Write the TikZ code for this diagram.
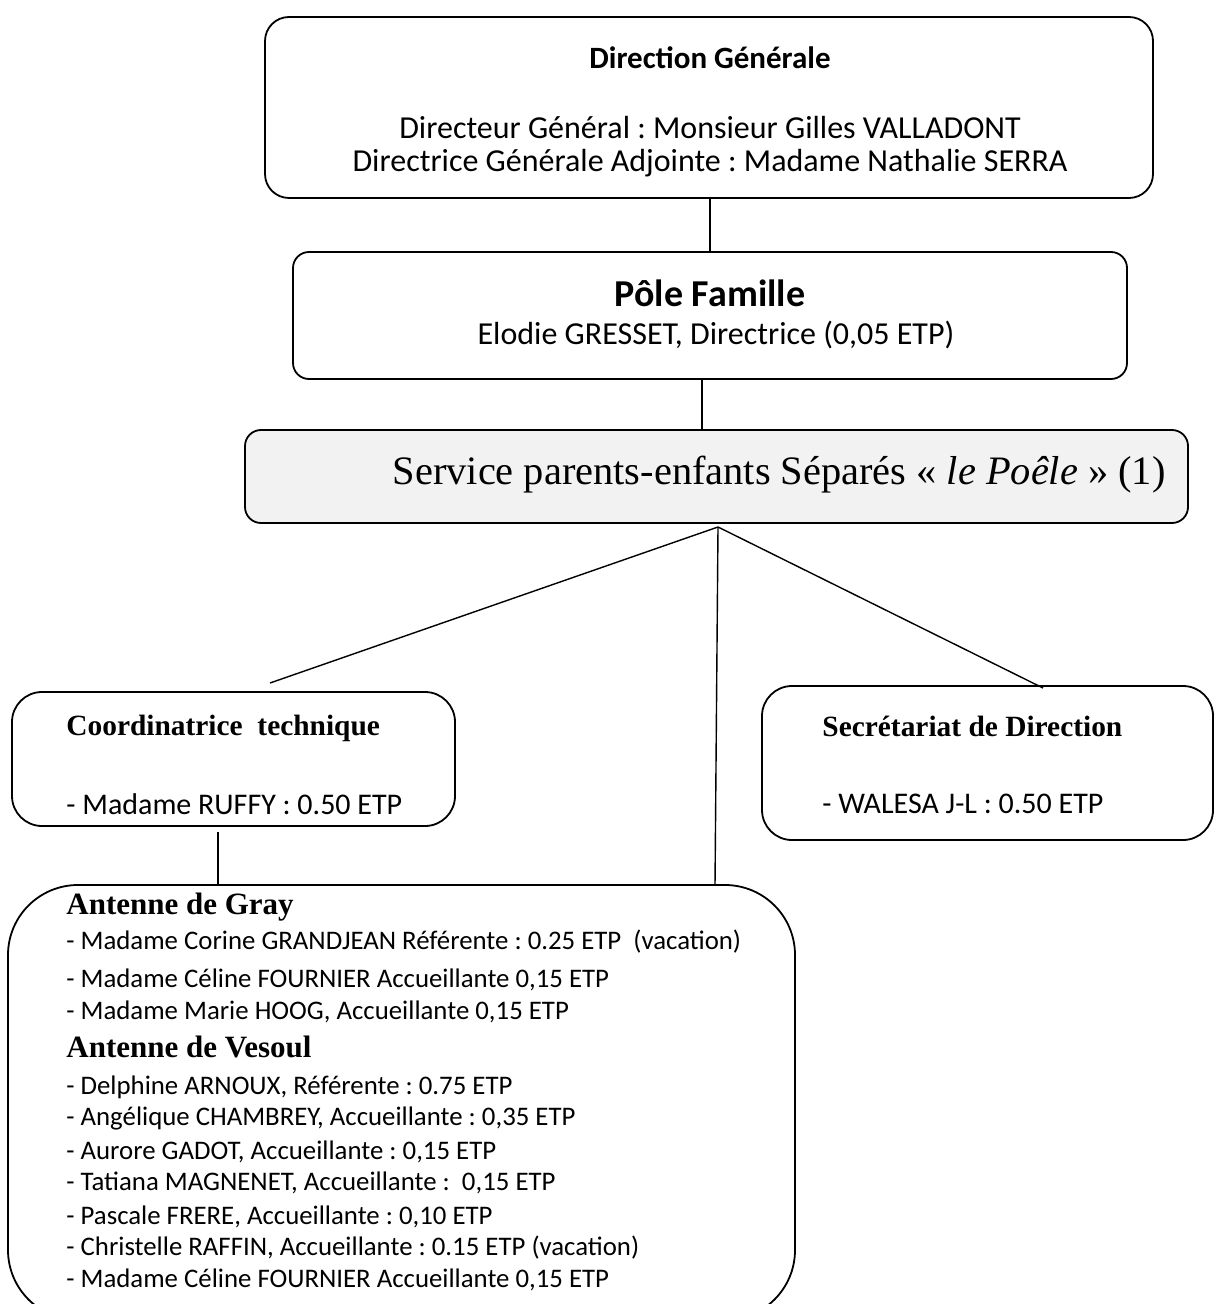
\documentclass[tikz,border=0pt]{standalone}
\usepackage{fontspec}
\setmainfont{Liberation Serif}
\newfontfamily\carlito{Carlito}
\frenchspacing

\begin{document}
\begin{tikzpicture}[x=0.5pt, y=-0.5pt,
  box/.style={draw, line width=0.9pt, inner sep=0pt},
  link/.style={line width=0.7pt},
  body/.style={font=\carlito\fontsize{16}{16.5}\selectfont, align=center, inner sep=0pt},
  item/.style={font=\carlito\fontsize{13.4}{15}\selectfont, anchor=west, inner sep=0pt},
  head/.style={font=\bfseries\fontsize{15.5}{17}\selectfont, anchor=west, inner sep=0pt}]

\useasboundingbox (0,0) rectangle (1214,1304);
\clip (0,0) rectangle (1214,1304);

\node[box, rounded corners=12pt, minimum width=444pt, minimum height=90.5pt] (dg) at (709,107.5) {};
\node[box, rounded corners=8pt, minimum width=417pt, minimum height=63.5pt] (pf) at (710,315.5) {};
\node[box, rounded corners=8pt, fill=black!5, minimum width=471.5pt, minimum height=46.5pt] (serv) at (716.5,476.5) {};
\node[box, rounded corners=15pt, minimum width=221.5pt, minimum height=67pt] (coord) at (233.5,759) {};
\node[box, rounded corners=15pt, minimum width=225.5pt, minimum height=77pt] (secr) at (987.5,763) {};
\node[box, rounded corners=35pt, minimum width=393.5pt, minimum height=217.5pt] (ant) at (401.5,1102.5) {};

\node[body, font=\carlito\bfseries\fontsize{15.5}{17}\selectfont] (dgt) at (710,58) {Direction Générale};
\node[body] (dgl) at (710,147) {Directeur Général : Monsieur Gilles VALLADONT\\Directrice Générale Adjointe : Madame Nathalie SERRA};
\node[body, font=\carlito\bfseries\fontsize{19}{21}\selectfont] (pft) at (710,293) {Pôle Famille};
\node[body] (pfl) at (716,335) {Elodie GRESSET, Directrice (0,05 ETP)};
\node[anchor=east, inner sep=0pt, font=\fontsize{20.2}{22}\selectfont] (servt) at (1166,475) {Service parents-enfants Séparés « \textit{le Poêle} » (1)};

\node[head, font=\bfseries\fontsize{14.7}{16}\selectfont] (coordt) at (66,728) {Coordinatrice\ \ technique};
\node[item, font=\carlito\fontsize{15}{16}\selectfont] (coordl) at (66,804) {- Madame RUFFY : 0.50 ETP};
\node[head, font=\bfseries\fontsize{14.7}{16}\selectfont] (secrt) at (822,726) {Secrétariat de Direction};
\node[item, font=\carlito\fontsize{15}{16}\selectfont] (secrl) at (822,804) {- WALESA J-L : 0.50 ETP};

\node[head] (gray) at (66,907) {Antenne de Gray};
\node[head] (vesoul) at (66,1047) {Antenne de Vesoul};
\foreach \y/\t [count=\i] in {
  942/{- Madame Corine GRANDJEAN Référente : 0.25 ETP\ \ (vacation)},
  980/{- Madame Céline FOURNIER Accueillante 0,15 ETP},
  1012/{- Madame Marie HOOG, Accueillante 0,15 ETP},
  1087/{- Delphine ARNOUX, Référente : 0.75 ETP},
  1118/{- Angélique CHAMBREY, Accueillante : 0,35 ETP},
  1152/{- Aurore GADOT, Accueillante : 0,15 ETP},
  1183/{- Tatiana MAGNENET, Accueillante :\ \ 0,15 ETP},
  1217/{- Pascale FRERE, Accueillante : 0,10 ETP},
  1248/{- Christelle RAFFIN, Accueillante : 0.15 ETP (vacation)},
  1280/{- Madame Céline FOURNIER Accueillante 0,15 ETP}}
  \node[item] (p\i) at (66,\y) {\t};

\coordinate (hub) at (718,527);
\coordinate (lend) at (270,683);
\coordinate (rend) at (1043,688);
\coordinate (mend) at (715,885);
\coordinate (ctop) at (218,832);

\draw[link] (pf.north |- dg.south) -- (pf.north);
\draw[link] ([xshift=-4pt]pf.south) -- ([xshift=-4pt]pf.south |- serv.north);
\draw[link] (hub) -- (lend);
\draw[link] (hub) -- (rend);
\draw[link] (hub) -- (mend);
\draw[link] (ctop) -- (ctop |- ant.north);
\end{tikzpicture}
\end{document}
